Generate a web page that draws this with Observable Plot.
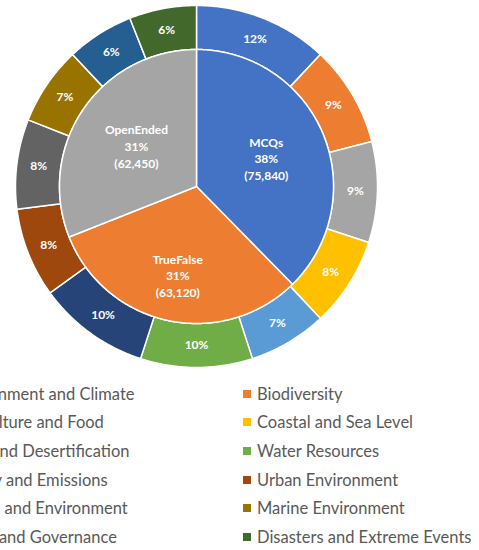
<!DOCTYPE html>
<html>
<head>
<meta charset="utf-8">
<script src="https://cdn.jsdelivr.net/npm/d3@7"></script>
<script src="https://cdn.jsdelivr.net/npm/@observablehq/plot@0.6"></script>
<style>
  html, body { margin: 0; padding: 0; background: #fff; }
  #wrap { width: 479px; height: 550px; overflow: hidden; position: relative; }
  #legend { position: relative; width: 479px; height: 170px; overflow: hidden; font-family: Lato, sans-serif; font-size: 16.5px; color: #595959; }
  .item { position: absolute; white-space: nowrap; line-height: 18px; }
  .sw { position: absolute; width: 8px; height: 8px; }
</style>
</head>
<body>
<div id="wrap">
  <div id="chart"></div>
  <div id="legend"></div>
</div>
<script>
// ---- data ----
const types = ["MCQs", "TrueFalse", "OpenEnded"];
const typeCounts = [75840, 63120, 62450];
const typePct = [38, 31, 31];
const typeColors = ["#4472C4", "#ED7D31", "#A5A5A5"];

const categories = [
  "Environment and Climate", "Biodiversity",
  "Agriculture and Food", "Coastal and Sea Level",
  "Land and Desertification", "Water Resources",
  "Energy and Emissions", "Urban Environment",
  "Health and Environment", "Marine Environment",
  "Policy and Governance", "Disasters and Extreme Events"
];
const categoryPct = [12, 9, 9, 8, 7, 10, 10, 8, 8, 7, 6, 6];
const categoryColors = [
  "#4472C4", "#ED7D31", "#A5A5A5", "#FFC000", "#5B9BD5", "#70AD47",
  "#264478", "#9E480E", "#636363", "#997300", "#255E91", "#43682B"
];

// ---- geometry (in units of outer radius) ----
const R_OUT = 1, R_MID = 137 / 181, R_IN = 0;
const pie = d3.pie().sort(null).value(d => d);

function ring(keys, values, r0, r1, prefix) {
  const arcs = pie(values);
  const rows = [];
  arcs.forEach((a, i) => {
    const id = prefix + i;
    const n = Math.max(8, Math.ceil((a.endAngle - a.startAngle) / 0.01));
    const pts = [];
    for (let k = 0; k <= n; k++) {
      const t = a.startAngle + (a.endAngle - a.startAngle) * k / n;
      pts.push([r1 * Math.sin(t), r1 * Math.cos(t)]);
    }
    if (r0 === 0) pts.push([0, 0]);
    else for (let k = n; k >= 0; k--) {
      const t = a.startAngle + (a.endAngle - a.startAngle) * k / n;
      pts.push([r0 * Math.sin(t), r0 * Math.cos(t)]);
    }
    pts.push(pts[0]);
    pts.forEach(([x, y]) => rows.push({id, key: keys[i], x, y}));
  });
  return {rows, arcs};
}

const outer = ring(categories, categoryPct, R_MID, R_OUT, "c");
const inner = ring(types, typeCounts, R_IN, R_MID, "t");

const outerLabels = outer.arcs.map((a, i) => {
  const m = (a.startAngle + a.endAngle) / 2, r = (R_MID + R_OUT) / 2;
  return {x: r * Math.sin(m), y: r * Math.cos(m), text: categoryPct[i] + "%"};
});
const innerR = [0.55, 0.66, 0.53];
const innerLabels = inner.arcs.map((a, i) => {
  const m = (a.startAngle + a.endAngle) / 2, r = R_MID * innerR[i];
  return {x: r * Math.sin(m), y: r * Math.cos(m),
    text: types[i] + "\n" + typePct[i] + "%\n(" + d3.format(",")(typeCounts[i]) + ")"};
});

const W = 479, H = 380, CX = 196, CY = 186, RPX = 181;

const plot = Plot.plot({
  width: W, height: H,
  margin: 0,
  x: {domain: [-CX / RPX, (W - CX) / RPX], axis: null},
  y: {domain: [-(H - CY) / RPX, CY / RPX], axis: null},
  color: {domain: [...categories, ...types], range: [...categoryColors, ...typeColors]},
  style: {fontFamily: "Lato, sans-serif"},
  marks: [
    Plot.line(outer.rows, {x: "x", y: "y", z: "id", fill: "key", stroke: "white", strokeWidth: 1.5, curve: "linear"}),
    Plot.line(inner.rows, {x: "x", y: "y", z: "id", fill: "key", stroke: "white", strokeWidth: 1.5, curve: "linear"}),
    Plot.text(outerLabels, {x: "x", y: "y", text: "text", fill: "white", fontWeight: "bold", fontSize: 12}),
    Plot.text(innerLabels, {x: "x", y: "y", text: "text", fill: "white", fontWeight: "bold", fontSize: 12, lineHeight: 1.38})
  ]
});
document.getElementById("chart").appendChild(plot);

// ---- legend ----
const legend = document.getElementById("legend");
const rowY = [14, 42, 71, 100, 128, 157];
const colText = [-48, 257];
categories.forEach((c, i) => {
  const col = i % 2, row = Math.floor(i / 2);
  const sw = document.createElement("div");
  sw.className = "sw";
  sw.style.background = categoryColors[i];
  sw.style.left = (colText[col] - 14) + "px";
  sw.style.top = (rowY[row] - 4) + "px";
  legend.appendChild(sw);
  const t = document.createElement("div");
  t.className = "item";
  t.textContent = c;
  t.style.left = colText[col] + "px";
  t.style.top = (rowY[row] - 9) + "px";
  legend.appendChild(t);
});
</script>
</body>
</html>
